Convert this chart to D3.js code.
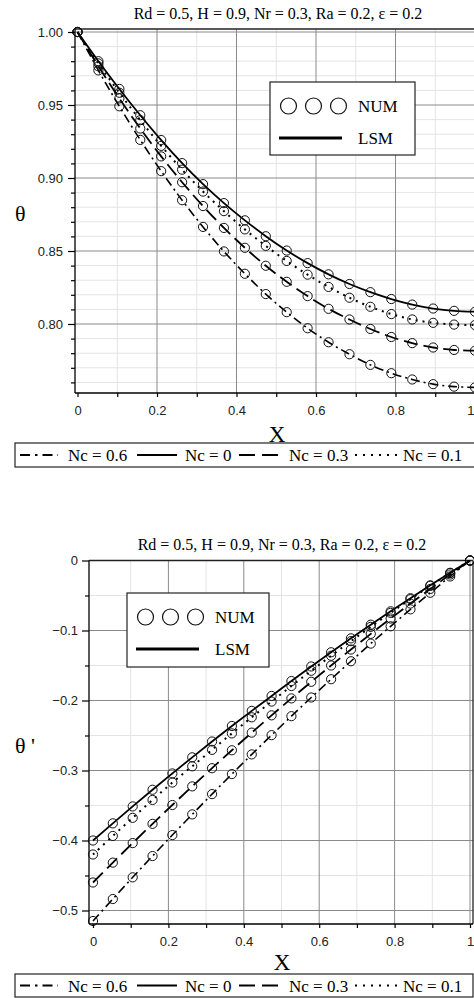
<!DOCTYPE html>
<html>
<head>
<meta charset="utf-8">
<script src="https://cdn.jsdelivr.net/npm/d3@7"></script>
<style>
  html, body { margin: 0; padding: 0; background: #fff; }
  svg { display: block; }
</style>
</head>
<body>
<svg id="chart" width="474" height="998"></svg>
<script>
// ---------------- DATA ----------------
const titleText = "Rd = 0.5, H = 0.9, Nr = 0.3, Ra = 0.2, ε = 0.2";
const xPoints = [0, 0.0526, 0.1053, 0.1579, 0.2105, 0.2632, 0.3158, 0.3684, 0.4211, 0.4737,
                 0.5263, 0.5789, 0.6316, 0.6842, 0.7368, 0.7895, 0.8421, 0.8947, 0.9474, 1];
const ncLabels = ["Nc = 0.6", "Nc = 0", "Nc = 0.3", "Nc = 0.1"];

// theta(X)
const thetaNc0  = [1.0000, 0.9800, 0.9610, 0.9430, 0.9260, 0.9102, 0.8958, 0.8828, 0.8710, 0.8601,
                   0.8503, 0.8417, 0.8340, 0.8274, 0.8218, 0.8171, 0.8133, 0.8106, 0.8090, 0.8084];
const thetaNc01 = [1.0000, 0.9785, 0.9584, 0.9396, 0.9220, 0.9057, 0.8907, 0.8773, 0.8648, 0.8535,
                   0.8432, 0.8338, 0.8254, 0.8180, 0.8118, 0.8068, 0.8031, 0.8008, 0.7996, 0.7993];
const thetaNc03 = [1.0000, 0.9765, 0.9545, 0.9339, 0.9148, 0.8971, 0.8808, 0.8658, 0.8522, 0.8399,
                   0.8289, 0.8191, 0.8104, 0.8031, 0.7966, 0.7911, 0.7869, 0.7839, 0.7822, 0.7817];
const thetaNc06 = [1.0000, 0.9737, 0.9491, 0.9261, 0.9047, 0.8848, 0.8665, 0.8497, 0.8344, 0.8205,
                   0.8081, 0.7971, 0.7875, 0.7793, 0.7720, 0.7663, 0.7620, 0.7588, 0.7571, 0.7566];

// theta'(X)
const dthetaNc0  = [-0.4000, -0.3755, -0.3513, -0.3275, -0.3042, -0.2812, -0.2586, -0.2364, -0.2148, -0.1935,
                    -0.1722, -0.1514, -0.1311, -0.1112, -0.0917, -0.0726, -0.0539, -0.0355, -0.0176, 0];
const dthetaNc01 = [-0.4200, -0.3935, -0.3676, -0.3421, -0.3172, -0.2940, -0.2705, -0.2470, -0.2240, -0.2015,
                    -0.1793, -0.1575, -0.1361, -0.1152, -0.0948, -0.0748, -0.0552, -0.0362, -0.0178, 0];
const dthetaNc03 = [-0.4600, -0.4316, -0.4037, -0.3762, -0.3493, -0.3227, -0.2967, -0.2711, -0.2459, -0.2212,
                    -0.1970, -0.1733, -0.1500, -0.1272, -0.1048, -0.0829, -0.0615, -0.0406, -0.0200, 0];
const dthetaNc06 = [-0.5150, -0.4836, -0.4526, -0.4222, -0.3922, -0.3627, -0.3337, -0.3051, -0.2770, -0.2495,
                    -0.2224, -0.1957, -0.1696, -0.1439, -0.1187, -0.0940, -0.0698, -0.0461, -0.0228, 0];

const xTickValues = [0, 0.2, 0.4, 0.6, 0.8, 1];
const xTickLabels = ["0", "0.2", "0.4", "0.6", "0.8", "1"];
const xMinorTicks = [0.1, 0.3, 0.5, 0.7, 0.9];
const yTopTicks = [0.80, 0.85, 0.90, 0.95, 1.00];
const yTopLabels = ["0.80", "0.85", "0.90", "0.95", "1.00"];
const yTopMinor = [0.76, 0.77, 0.78, 0.79, 0.81, 0.82, 0.83, 0.84, 0.86, 0.87, 0.88, 0.89,
                   0.91, 0.92, 0.93, 0.94, 0.96, 0.97, 0.98, 0.99];
const yBotTicks = [-0.5, -0.4, -0.3, -0.2, -0.1, 0];
const yBotLabels = ["\u22120.5", "\u22120.4", "\u22120.3", "\u22120.2", "\u22120.1", "0"];
const yBotMinor = [-0.45, -0.35, -0.25, -0.15, -0.05];

// ---------------- STYLES ----------------
const dashes = { "Nc = 0.6": "9,4,2,4", "Nc = 0": null, "Nc = 0.3": "14,6", "Nc = 0.1": "2,5" };
const widths = { "Nc = 0.6": 1.6, "Nc = 0": 1.8, "Nc = 0.3": 1.8, "Nc = 0.1": 2 };
const serif = "'Liberation Serif', 'Times New Roman', serif";
const sans = "'Liberation Sans', Arial, sans-serif";

const svg = d3.select("#chart");

function drawPanel(cfg) {
  const g = svg.append("g");
  const x = d3.scaleLinear().domain([0, 1]).range(cfg.xRange);
  const y = d3.scaleLinear().domain(cfg.yDomain).range(cfg.yRange);
  const f = cfg.frame; // {l, r, t, b}

  // minor grid
  g.append("g").selectAll("line.vminor").data(xMinorTicks).join("line")
    .attr("x1", d => x(d)).attr("x2", d => x(d)).attr("y1", f.t).attr("y2", f.b)
    .attr("stroke", "#e4e4e4").attr("stroke-width", 1);
  g.append("g").selectAll("line.hminor").data(cfg.yMinor).join("line")
    .attr("x1", f.l).attr("x2", f.r).attr("y1", d => y(d)).attr("y2", d => y(d))
    .attr("stroke", "#e4e4e4").attr("stroke-width", 1);
  // major grid
  g.append("g").selectAll("line").data(xTickValues.filter(d => d > 0)).join("line")
    .attr("x1", d => x(d)).attr("x2", d => x(d)).attr("y1", f.t).attr("y2", f.b)
    .attr("stroke", "#8a8a8a").attr("stroke-width", 1);
  g.append("g").selectAll("line").data(cfg.yTicks).join("line")
    .attr("x1", f.l).attr("x2", f.r).attr("y1", d => y(d)).attr("y2", d => y(d))
    .attr("stroke", "#8a8a8a").attr("stroke-width", 1);

  // frame
  g.append("line").attr("x1", f.l).attr("x2", f.r).attr("y1", f.t).attr("y2", f.t)
    .attr("stroke", "#222").attr("stroke-width", 1.3);
  g.append("line").attr("x1", f.r).attr("x2", f.r).attr("y1", f.t).attr("y2", f.b)
    .attr("stroke", "#222").attr("stroke-width", 1.3);
  g.append("line").attr("x1", f.l).attr("x2", f.r).attr("y1", f.b).attr("y2", f.b)
    .attr("stroke", "#000").attr("stroke-width", 1.3);
  g.append("line").attr("x1", f.l).attr("x2", f.l).attr("y1", f.t).attr("y2", f.b)
    .attr("stroke", "#000").attr("stroke-width", 1.3);

  // clip
  const clipId = "clip" + cfg.id;
  svg.append("clipPath").attr("id", clipId).append("rect")
    .attr("x", f.l - 6).attr("y", f.t - 6).attr("width", f.r - f.l + 12).attr("height", f.b - f.t + 8);
  const plot = g.append("g").attr("clip-path", `url(#${clipId})`);

  const line = d3.line().x((d, i) => x(xPoints[i])).y(d => y(d)).curve(d3.curveCatmullRom);
  cfg.series.forEach(s => {
    plot.append("path").datum(s.values)
      .attr("d", line).attr("fill", "none").attr("stroke", "#000")
      .attr("stroke-width", widths[s.label])
      .attr("stroke-dasharray", dashes[s.label]);
  });
  cfg.series.forEach(s => {
    plot.append("g").selectAll("circle").data(s.values).join("circle")
      .attr("cx", (d, i) => x(xPoints[i])).attr("cy", d => y(d)).attr("r", 4.6)
      .attr("fill", "none").attr("stroke", "#111").attr("stroke-width", 1);
  });

  // axes
  const yAxis = d3.axisLeft(y).tickValues(cfg.yTicks).tickSize(7).tickPadding(cfg.yPad)
    .tickFormat((d, i) => cfg.yLabels[i]);
  const ya = g.append("g").attr("transform", `translate(${f.l},0)`).call(yAxis);
  const yMinorAxis = d3.axisLeft(y).tickValues(cfg.yMinor).tickSize(4).tickFormat("");
  const yma = g.append("g").attr("transform", `translate(${f.l},0)`).call(yMinorAxis);
  const xAxis = d3.axisBottom(x).tickValues(xTickValues).tickSize(4).tickPadding(9)
    .tickFormat((d, i) => xTickLabels[i]);
  const xa = g.append("g").attr("transform", `translate(0,${f.b})`).call(xAxis);
  const xMinorAxis = d3.axisBottom(x).tickValues(xMinorTicks).tickSize(4).tickFormat("");
  const xma = g.append("g").attr("transform", `translate(0,${f.b})`).call(xMinorAxis);
  [ya, yma, xa, xma].forEach(a => {
    a.select(".domain").remove();
    a.selectAll("line").attr("stroke", "#000").attr("stroke-width", 1.2);
    a.selectAll("text").attr("font-family", sans).attr("font-size", 13).attr("fill", "#222");
  });
  if (cfg.lastXLabelEnd) {
    xa.selectAll(".tick").filter(d => d === 1).select("text")
      .attr("text-anchor", "end").attr("x", 474 - x(1));
  }

  // title
  g.append("text").attr("x", cfg.titleX).attr("y", cfg.titleY).attr("text-anchor", "middle")
    .attr("font-family", serif).attr("font-size", 16).attr("fill", "#000").text(titleText);
  // y label
  g.append("text").attr("x", cfg.yLabX).attr("y", cfg.yLabY).attr("text-anchor", "start")
    .attr("font-family", serif).attr("font-size", 22).attr("fill", "#000").text(cfg.yLabel);
  // x label
  g.append("text").attr("x", cfg.xLabX).attr("y", cfg.xLabY).attr("text-anchor", "middle")
    .attr("font-family", serif).attr("font-size", 23).attr("fill", "#000").text("X");

  // inset legend
  const il = cfg.inset;
  const ig = g.append("g");
  ig.append("rect").attr("x", il.x).attr("y", il.y).attr("width", il.w).attr("height", il.h)
    .attr("fill", "#fff").attr("stroke", "#222").attr("stroke-width", 1.2);
  [0, 1, 2].forEach(k => {
    ig.append("circle").attr("cx", il.x + 18.5 + k * 25).attr("cy", il.y + 24).attr("r", 8)
      .attr("fill", "none").attr("stroke", "#111").attr("stroke-width", 1.2);
  });
  ig.append("text").attr("x", il.x + 88).attr("y", il.y + 30).attr("font-family", serif)
    .attr("font-size", 17).attr("fill", "#000").text("NUM");
  ig.append("line").attr("x1", il.x + 9).attr("x2", il.x + 72).attr("y1", il.y + 56).attr("y2", il.y + 56)
    .attr("stroke", "#000").attr("stroke-width", 3);
  ig.append("text").attr("x", il.x + 88).attr("y", il.y + 62).attr("font-family", serif)
    .attr("font-size", 17).attr("fill", "#000").text("LSM");

  // bottom legend
  const bl = cfg.legend;
  const lg = g.append("g");
  lg.append("rect").attr("x", bl.x).attr("y", bl.y).attr("width", bl.w).attr("height", bl.h)
    .attr("fill", "#fff").attr("stroke", "#222").attr("stroke-width", 1.2);
  const items = [
    { label: ncLabels[0], x1: 20, x2: 58, tx: 68 },
    { label: ncLabels[1], x1: 137, x2: 177, tx: 185 },
    { label: ncLabels[2], x1: 239, x2: 278, tx: 289 },
    { label: ncLabels[3], x1: 355, x2: 397, tx: 403 }
  ];
  const legDash = { "Nc = 0.6": "10,5,2.5,5", "Nc = 0": null, "Nc = 0.3": "16,7", "Nc = 0.1": "2,6" };
  items.forEach(it => {
    lg.append("line").attr("x1", it.x1).attr("x2", it.x2).attr("y1", bl.y + bl.h / 2).attr("y2", bl.y + bl.h / 2)
      .attr("stroke", "#000").attr("stroke-width", 2.2).attr("stroke-dasharray", legDash[it.label]);
    lg.append("text").attr("x", it.tx).attr("y", bl.y + bl.h / 2 + 6).attr("font-family", serif)
      .attr("font-size", 17).attr("fill", "#000").text(it.label);
  });
}

drawPanel({
  id: "top",
  xRange: [77.5, 475], yDomain: [0.80, 1.00], yRange: [324, 32],
  frame: { l: 75, r: 476, t: 29, b: 393 },
  yTicks: yTopTicks, yLabels: yTopLabels, yMinor: yTopMinor, yPad: 5,
  lastXLabelEnd: true,
  series: [
    { label: "Nc = 0.6", values: thetaNc06 },
    { label: "Nc = 0.3", values: thetaNc03 },
    { label: "Nc = 0.1", values: thetaNc01 },
    { label: "Nc = 0", values: thetaNc0 }
  ],
  titleX: 278, titleY: 19,
  yLabel: "θ", yLabX: 15, yLabY: 221,
  xLabX: 277, xLabY: 442,
  inset: { x: 270, y: 82, w: 145, h: 73 },
  legend: { x: 15, y: 443, w: 462, h: 24 }
});

drawPanel({
  id: "bot",
  xRange: [93, 470], yDomain: [-0.5, 0], yRange: [910.5, 560.5],
  frame: { l: 89, r: 473, t: 560.5, b: 924 },
  yTicks: yBotTicks, yLabels: yBotLabels, yMinor: yBotMinor, yPad: 4,
  lastXLabelEnd: false,
  series: [
    { label: "Nc = 0.6", values: dthetaNc06 },
    { label: "Nc = 0.3", values: dthetaNc03 },
    { label: "Nc = 0.1", values: dthetaNc01 },
    { label: "Nc = 0", values: dthetaNc0 }
  ],
  titleX: 282, titleY: 550,
  yLabel: "θ '", yLabX: 15, yLabY: 753,
  xLabX: 282, xLabY: 970,
  inset: { x: 127, y: 593, w: 142, h: 74 },
  legend: { x: 15, y: 974, w: 458, h: 23 }
});
</script>
</body>
</html>
